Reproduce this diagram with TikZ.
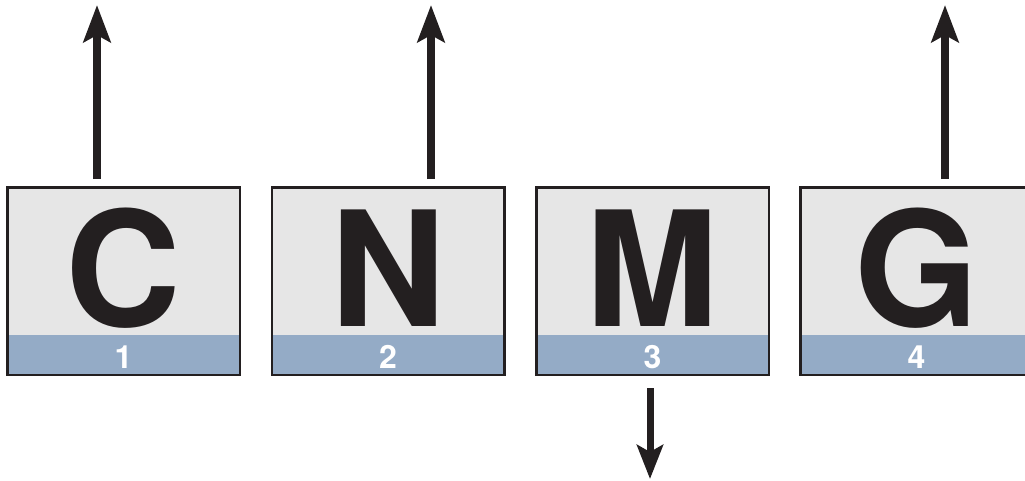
\documentclass[tikz,border=0pt]{standalone}
\usepackage{fontspec}
\setmainfont{TeX Gyre Heros}
\usetikzlibrary{arrows.meta}
\definecolor{boxgray}{HTML}{E6E6E6}
\definecolor{stripblue}{HTML}{94ABC6}
\definecolor{inkdark}{HTML}{231F20}
\tikzset{
  letterbox/.style={draw=inkdark, line width=2.5pt, fill=boxgray,
    minimum width=232.5pt, minimum height=187.5pt, inner sep=0pt,
    path picture={\fill[stripblue] (path picture bounding box.south west)
      rectangle ([yshift=39.75pt]path picture bounding box.south east);}},
  bigletter/.style={anchor=base, inner sep=0pt, text=inkdark,
    text height=116pt, text depth=0pt,
    font=\fontsize{160}{160}\selectfont\bfseries},
  slotnum/.style={anchor=base, inner sep=0pt, text=white,
    text height=23pt, text depth=0pt,
    font=\fontsize{32}{32}\selectfont\bfseries},
  uparrow/.style={draw=inkdark, line width=8pt,
    -{Stealth[length=37pt, width=27pt, inset=7pt]}},
  downarrow/.style={draw=inkdark, line width=7pt,
    -{Stealth[length=34pt, width=26pt, inset=7pt]}}
}
\begin{document}
\begin{tikzpicture}[x=1pt, y=-1pt]
  \clip (0,0) rectangle (1025,480);
  % the four labelled slots
  \foreach \name/\cx/\ch/\num in {b1/123.5/C/1, b2/388/N/2, b3/652.5/M/3, b4/916.5/G/4} {
    \node[letterbox] (\name) at (\cx,281) {};
    \node[bigletter] (\name l) at (\cx,326) {\ch};
    \node[slotnum] (\name n) at (\cx,368) {\num};
  }
  % arrow ends
  \coordinate (t1) at (97,5);
  \coordinate (t2) at (431,5);
  \coordinate (t4) at (945,5);
  \coordinate (t3) at (650,479);
  \draw[uparrow] (b1.north -| t1) ++(0,-7) -- (t1);
  \draw[uparrow] (b2.north -| t2) ++(0,-7) -- (t2);
  \draw[uparrow] (b4.north -| t4) ++(0,-7) -- (t4);
  \draw[downarrow] (b3.south -| t3) ++(0,12) -- (t3);
\end{tikzpicture}
\end{document}
